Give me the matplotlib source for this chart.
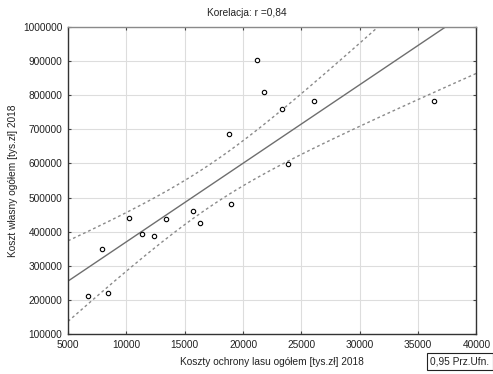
import numpy as np
import matplotlib.pyplot as plt
from matplotlib.ticker import FuncFormatter

plt.rcParams['font.family'] = ['Liberation Sans', 'DejaVu Sans']

# data
koszty_ochrony = [6714, 7914, 8462, 10228, 11342, 12344, 13373, 15746, 16286,
                  18943, 18797, 21197, 21797, 23373, 26116, 23888, 36399]
koszt_wlasny = [213000, 350500, 220000, 439400, 392600, 386800, 437400, 460800,
                425700, 482100, 685200, 902600, 808900, 758300, 783500, 597400,
                783500]
x_ticks = [5000, 10000, 15000, 20000, 25000, 30000, 35000, 40000]
y_ticks = [100000, 200000, 300000, 400000, 500000, 600000, 700000, 800000,
           900000, 1000000]

x = np.array(koszty_ochrony, dtype=float)
y = np.array(koszt_wlasny, dtype=float)
n = len(x)

# linear fit + 95% confidence band for the mean
b, a = np.polyfit(x, y, 1)
resid = y - (a + b * x)
s = np.sqrt(np.sum(resid ** 2) / (n - 2))
t_val = 2.131  # t(0.975, df=15)
xs = np.linspace(x_ticks[0], x_ticks[-1], 300)
yfit = a + b * xs
se = s * np.sqrt(1.0 / n + (xs - x.mean()) ** 2 / np.sum((x - x.mean()) ** 2))

fig = plt.figure(figsize=(4.93, 3.74), dpi=100)
ax = fig.add_axes([0.138, 0.106, 0.8285, 0.8226])

ax.plot(xs, yfit, c='#6e6e6e', lw=1.0, zorder=2)
ax.plot(xs, yfit + t_val * se, c='#8a8a8a', lw=1.0, ls=(0, (2, 2)), zorder=2)
ax.plot(xs, yfit - t_val * se, c='#8a8a8a', lw=1.0, ls=(0, (2, 2)), zorder=2)
ax.scatter(x, y, s=10, facecolors='white', edgecolors='black', linewidths=0.8,
           zorder=3)

ax.set_xlim(x_ticks[0], x_ticks[-1])
ax.set_ylim(y_ticks[0], y_ticks[-1])
ax.set_xticks(x_ticks)
ax.set_yticks(y_ticks)
plain = FuncFormatter(lambda v, p: f'{v:.0f}')
ax.xaxis.set_major_formatter(plain)
ax.yaxis.set_major_formatter(plain)
ax.tick_params(axis='both', which='both', top=True, right=True, direction='in',
               length=2, pad=4, labelsize=7.3, color='#444444',
               labelcolor='#222222')
ax.grid(True, color='#dddddd', lw=0.8, zorder=0)
ax.set_axisbelow(True)
for side in ['left', 'bottom', 'right']:
    ax.spines[side].set_color('#333333')
ax.spines['top'].set_color('#8a8a8a')
for sp in ax.spines.values():
    sp.set_linewidth(1.0)

ax.set_xlabel('Koszty ochrony lasu ogółem [tys.zł] 2018', fontsize=7.3,
              color='#222222', labelpad=5)
ax.set_ylabel('Koszt własny ogółem [tys.zł] 2018', fontsize=7.3,
              color='#222222', labelpad=4)
fig.text(0.5, 0.965, 'Korelacja: r =0,84', fontsize=7.3, ha='center',
         va='center', color='#222222')
fig.text(0.993, 0.033, '0,95 Prz.Ufn.', fontsize=7.3, ha='right', va='center',
         color='#222222',
         bbox=dict(boxstyle='square,pad=0.35', fc='white', ec='#222222', lw=0.8))

fig.savefig('out.png', dpi=100)
